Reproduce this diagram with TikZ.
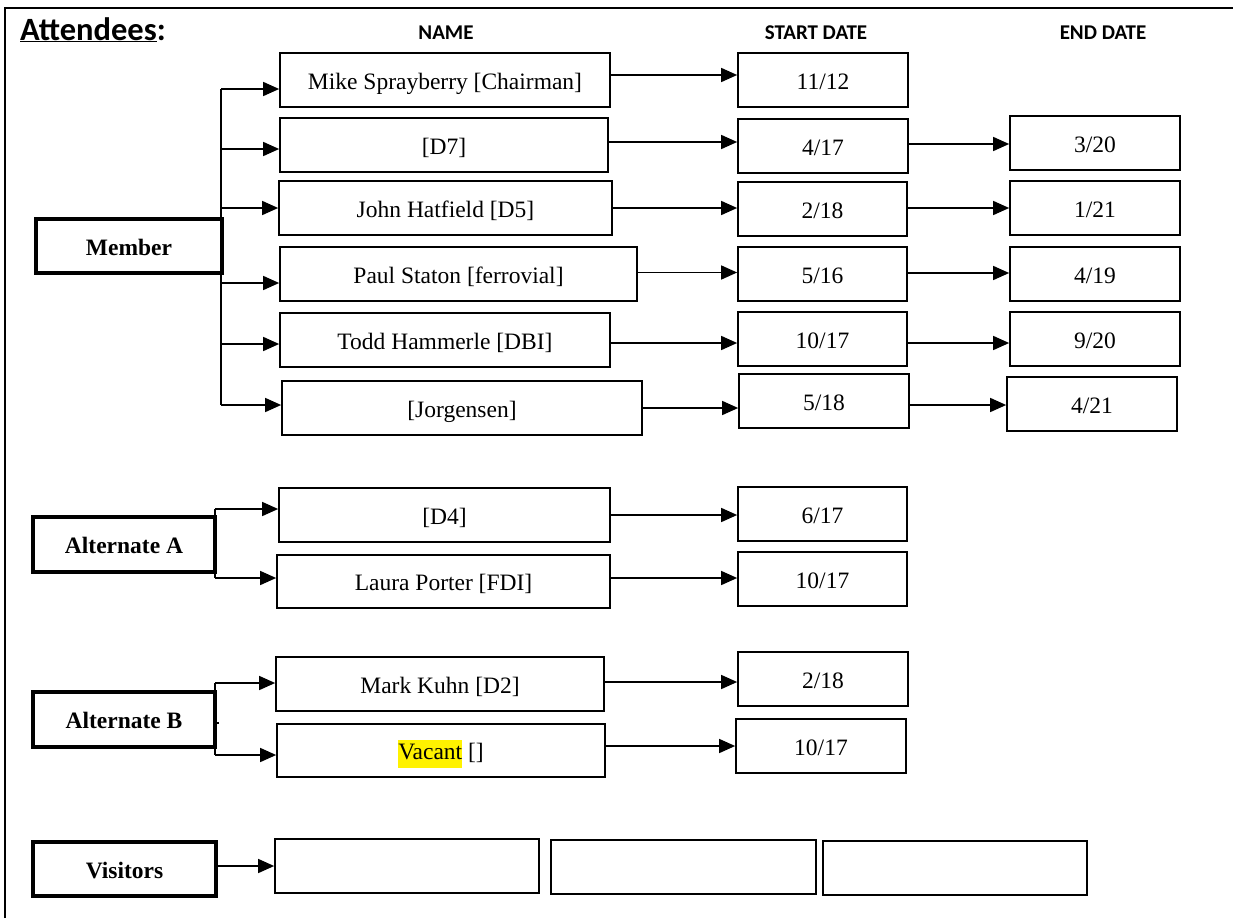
\documentclass[tikz,border=0pt]{standalone}
\usepackage{fontspec}
\setmainfont{Liberation Serif}
\newfontfamily\carlfont{Carlito}
\usetikzlibrary{arrows.meta}
\begin{document}
\begin{tikzpicture}[x=1pt,y=-1pt,
  bx/.style={draw, line width=1.7pt, inner sep=0pt, minimum height=54pt,
    text height=20pt, text depth=2pt,
    font=\fontsize{23.5}{28}\selectfont},
  lbl/.style={draw, line width=3.5pt, inner sep=0pt, minimum width=183pt,
    minimum height=54pt, text height=20pt, text depth=2pt,
    font=\fontsize{23.5}{28}\selectfont\bfseries},
  arr/.style={line width=1.5pt, -{Triangle[length=16pt,width=14pt]}},
  ln/.style={line width=1.5pt},
  hdr/.style={font=\carlfont\bfseries\fontsize{21}{25}\selectfont, inner sep=0pt, anchor=base}]
\useasboundingbox (0,0) rectangle (1233,918);
\fill[white] (0,0) rectangle (1233,918);
% frame
\draw[line width=2.5pt] (5,918) -- (5,8) -- (1233,8);
% headers
\node[anchor=base west, inner sep=0pt, font=\carlfont\bfseries\fontsize{32.5}{38}\selectfont] (att) at (20,40) {\underline{Attendees}:};
\node[hdr] (hname) at (446,39) {NAME};
\node[hdr] (hstart) at (816,39) {START DATE};
\node[hdr] (hend) at (1103,39) {END DATE};

% Member group
\node[lbl,minimum width=186pt] (mem) at (129,246) {Member};
\node[bx,minimum width=330pt] (n1) at (445,80) {Mike Sprayberry [Chairman]};
\node[bx,minimum width=328pt] (n2) at (444,145) {[D7]};
\node[bx,minimum width=333pt] (n3) at (445.5,208) {John Hatfield [D5]};
\node[bx,minimum width=357pt] (n4) at (458.5,274) {Paul Staton [ferrovial]};
\node[bx,minimum width=330pt] (n5) at (445,340) {Todd Hammerle [DBI]};
\node[bx,minimum width=360pt] (n6) at (462,408) {[Jorgensen]};

\node[bx,minimum width=170pt] (s1) at (823,80) {11/12};
\node[bx,minimum width=170pt] (s2) at (823,146) {4/17};
\node[bx,minimum width=169pt] (s3) at (822.5,209) {2/18};
\node[bx,minimum width=169pt] (s4) at (822.5,274) {5/16};
\node[bx,minimum width=169pt] (s5) at (822.5,339) {10/17};
\node[bx,minimum width=170pt] (s6) at (824,401) {5/18};

\node[bx,minimum width=170pt] (e2) at (1095,143) {3/20};
\node[bx,minimum width=170pt] (e3) at (1095,208) {1/21};
\node[bx,minimum width=170pt] (e4) at (1095,274) {4/19};
\node[bx,minimum width=170pt] (e5) at (1095,339) {9/20};
\node[bx,minimum width=170pt] (e6) at (1092,404) {4/21};

\coordinate (j1) at (221,89);
\coordinate (j2) at (221,149);
\coordinate (j3) at (221,208);
\coordinate (j4) at (221,283);
\coordinate (j5) at (221,344);
\coordinate (j6) at (221,405);
\draw[ln] (j1) -- (j6);
\foreach \i in {1,...,6}{\draw[arr] (j\i) -- (j\i -| n\i.west);}

\draw[arr] ([yshift=5pt]n1.east) -- ([yshift=5pt]n1.east -| s1.west);
\draw[arr] ([yshift=3pt]n2.east) -- ([yshift=3pt]n2.east -| s2.west);
\draw[arr] (n3.east) -- (n3.east -| s3.west);
\draw[arr] ([yshift=1.5pt]n4.east) -- ([yshift=1.5pt]n4.east -| s4.west);
\draw[arr] ([yshift=-3pt]n5.east) -- ([yshift=-3pt]n5.east -| s5.west);
\draw[arr] (n6.east) -- (n6.east -| s6.west);

\draw[arr] ([yshift=2pt]s2.east) -- ([yshift=2pt]s2.east -| e2.west);
\draw[arr] ([yshift=1pt]s3.east) -- ([yshift=1pt]s3.east -| e3.west);
\draw[arr] ([yshift=1pt]s4.east) -- ([yshift=1pt]s4.east -| e4.west);
\draw[arr] ([yshift=-4pt]s5.east) -- ([yshift=-4pt]s5.east -| e5.west);
\draw[arr] ([yshift=-4pt]s6.east) -- ([yshift=-4pt]s6.east -| e6.west);

% Alternate A
\node[lbl,minimum width=182pt,minimum height=55pt] (alta) at (124,544.5) {Alternate A};
\node[bx,minimum width=331pt] (a1) at (444.5,515) {[D4]};
\node[bx,minimum width=333pt,minimum height=53pt] (a2) at (443.5,581.5) {Laura Porter [FDI]};
\node[bx,minimum width=169pt] (sa1) at (822.5,514) {6/17};
\node[bx,minimum width=169pt] (sa2) at (822.5,579) {10/17};
\coordinate (ja1) at (215,509);
\coordinate (ja2) at (215,578);
\draw[ln] (ja1) -- (ja2);
\draw[arr] (ja1) -- (ja1 -| a1.west);
\draw[arr] (ja2) -- (ja2 -| a2.west);
\draw[arr] (a1.east) -- (a1.east -| sa1.west);
\draw[arr] ([yshift=3.5pt]a2.east) -- ([yshift=3.5pt]a2.east -| sa2.west);

% Alternate B
\node[lbl,minimum width=182pt,minimum height=55pt] (altb) at (124,719.5) {Alternate B};
\node[bx,minimum width=328pt] (b1) at (440,684) {Mark Kuhn [D2]};
\node[bx,minimum width=328pt,minimum height=53pt] (b2) at (441,750.5) {{\fboxsep=0pt\colorbox{yellow}{\strut Vacant}} []};
\node[bx,minimum width=170pt] (sb1) at (823,679) {2/18};
\node[bx,minimum width=170pt] (sb2) at (821,746) {10/17};
\coordinate (jb1) at (215,683);
\coordinate (jb2) at (215,755);
\coordinate (jbt) at (219,723);
\draw[ln] (jb1) -- (jb2);
\draw[ln] (jbt -| jb1) -- (jbt);
\draw[arr] (jb1) -- (jb1 -| b1.west);
\draw[arr] (jb2) -- (jb2 -| b2.west);
\draw[arr] ([yshift=2pt]b1.east) -- ([yshift=2pt]b1.east -| sb1.west);
\draw[arr] ([yshift=4.5pt]b2.east) -- ([yshift=4.5pt]b2.east -| sb2.west);

% Visitors
\node[lbl,minimum width=183pt] (vis) at (124.5,869) {Visitors};
\node[bx,minimum width=264pt] (v1) at (407,866) {};
\node[bx,minimum width=265pt] (v2) at (683.5,867) {};
\node[bx,minimum width=264pt] (v3) at (955,868) {};
\draw[arr] ([yshift=3pt]vis.east) -- ([yshift=3pt]vis.east -| v1.west);
\end{tikzpicture}
\end{document}
